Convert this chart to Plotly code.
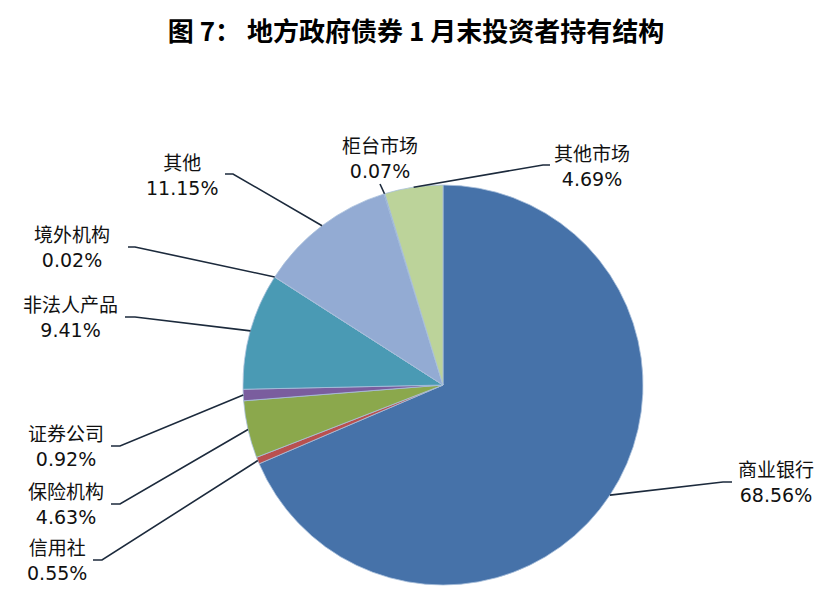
import math
import plotly.graph_objects as go

# 数据
labels = ['商业银行', '信用社', '保险机构', '证券公司', '非法人产品',
          '境外机构', '其他', '柜台市场', '其他市场']
shares = [68.56, 0.55, 4.63, 0.92, 9.41, 0.02, 11.15, 0.07, 4.69]
colors = ['#4672A9', '#B9504F', '#8BA84C', '#7A5D9E', '#4A9AB4',
          '#E08A3C', '#93ABD3', '#4F7DB3', '#BCD39A']

W, H = 826, 605
OFF = 8  # 页面 body 默认边距
# 饼图中心与半径 (像素, 按截图坐标)
cx, cy, r = 443, 385, 200

# 标签文字中心 (像素) 与引线起点/折点 x
label_pos = [(776, 482), (57, 560), (66, 504), (66, 446), (70, 317),
             (72, 247), (182, 175), (380, 158), (592, 166)]
lead_start = [(732, 482), (93, 560), (111, 504), (111, 446), (125, 317),
              (128, 247), (225, 174), (380, 184), (550, 165)]
lead_elbow_x = [723, 102, 120, 120, 135, 135, 233, 380, 543]


def px(x):
    return (x - OFF) / W


def py(y):
    return 1 - (y - OFF) / H


fig = go.Figure(go.Pie(
    labels=labels, values=shares, sort=False, direction='clockwise',
    rotation=0, textinfo='none', hoverinfo='label+percent',
    marker=dict(colors=colors, line=dict(color='#A9C0DC', width=0.8)),
    domain=dict(x=[px(cx - r), px(cx + r)], y=[py(cy + r), py(cy - r)]),
    showlegend=False,
))

total = sum(shares)
cum = 0
for i, (lab, v) in enumerate(zip(labels, shares)):
    mid = (cum + v / 2) / total * 2 * math.pi
    cum += v
    ex = cx + r * math.sin(mid)
    ey = cy - r * math.cos(mid)
    sx, sy = lead_start[i]
    path = 'M {} {} L {} {} L {} {}'.format(
        px(sx), py(sy), px(lead_elbow_x[i]), py(sy), px(ex), py(ey))
    fig.add_shape(type='path', path=path, xref='paper', yref='paper',
                  line=dict(color='#1C2A3C', width=1.6))
    tx, ty = label_pos[i]
    fig.add_annotation(x=px(tx), y=py(ty), xref='paper', yref='paper',
                       text='{}<br>{:.2f}%'.format(lab, v), showarrow=False,
                       xanchor='center', yanchor='middle', align='center',
                       font=dict(size=19, color='#111111',
                                 family='DejaVu Sans, Noto Sans CJK SC'))

fig.update_layout(
    width=W, height=H,
    margin=dict(l=0, r=0, t=0, b=0),
    paper_bgcolor='white', plot_bgcolor='white',
    title=dict(text='<b>图 7： 地方政府债券 1 月末投资者持有结构</b>',
               x=px(416), xanchor='center', y=py(32), yanchor='middle',
               font=dict(size=26, color='black', family='Noto Sans CJK SC')),
)

fig.write_html('out.html')
